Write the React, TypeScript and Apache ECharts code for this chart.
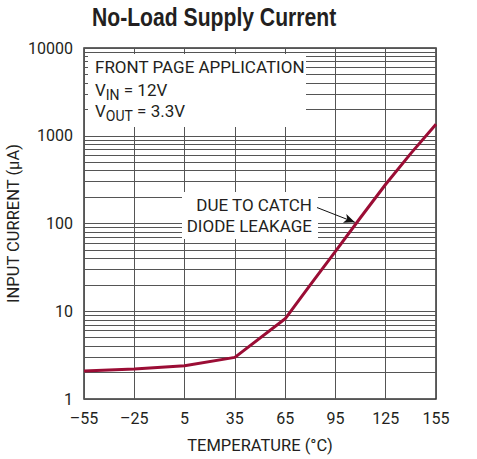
import React, { useEffect, useRef } from 'react';
import * as echarts from 'echarts';

// Temperature (°C) and input current (µA)
const TEMPS = [-55, -25, 5, 35, 65, 80, 95, 110, 125, 140, 155];
const CURRENT = [2.08, 2.2, 2.39, 2.98, 8.2, 20, 48, 117, 280, 630, 1350];

const X_MIN = -55;
const X_MAX = 155;
const X_STEP = 30;
const Y_MIN = 1;
const Y_MAX = 10000;

// Minor log grid lines (2..9 of each decade)
const MINOR_GRID = [
  2, 3, 4, 5, 6, 7, 8, 9,
  20, 30, 40, 50, 60, 70, 80, 90,
  200, 300, 400, 500, 600, 700, 800, 900,
  2000, 3000, 4000, 5000, 6000, 7000, 8000, 9000,
];

const TITLE = 'No-Load Supply Current';
const X_NAME = 'TEMPERATURE (°C)';
const Y_NAME = 'INPUT CURRENT (µA)';
const NOTE_1 = ['FRONT PAGE APPLICATION', 'V{s|IN} = 12V', 'V{s|OUT} = 3.3V'];
const NOTE_2 = ['DUE TO CATCH', 'DIODE LEAKAGE'];
const ARROW_FROM = [84, 152];
const ARROW_TO = [106.6, 103];

const FONT = 'Roboto, "Liberation Sans", sans-serif';
const TITLE_FONT = '"Liberation Sans", Arial, sans-serif';
const INK = '#231f20';
const GRID = '#555555';
const RED = '#9b0d35';

export default function App() {
  const ref = useRef<HTMLDivElement>(null);

  useEffect(() => {
    if (!ref.current) return;
    const chart = echarts.init(ref.current, null, { renderer: 'svg' });
    const data = TEMPS.map((t, i) => [t, CURRENT[i]]);

    const textEl = (text: string, x: number, y: number, align: string) => ({
      type: 'text',
      x,
      y,
      z: 7,
      zlevel: 0,
      style: {
        text,
        fill: INK,
        fontFamily: FONT,
        fontSize: 17,
        lineHeight: 24,
        align,
        verticalAlign: 'middle',
        rich: {
          s: { fontSize: 14, fontFamily: FONT, lineHeight: 14, verticalAlign: 'bottom', fill: INK },
        },
      },
    });

    chart.setOption({
      animation: false,
      grid: {
        left: 84,
        right: 41,
        top: 48,
        bottom: 60,
        outerBoundsMode: 'none',
        containLabel: false,
        show: true,
        borderColor: '#333',
        borderWidth: 1.5,
        backgroundColor: 'transparent',
      },
      xAxis: {
        type: 'value',
        min: X_MIN,
        max: X_MAX,
        interval: X_STEP,
        axisLine: { show: false },
        axisTick: { show: false },
        splitLine: { show: true, lineStyle: { color: GRID, width: 1 } },
        axisLabel: {
          fontFamily: FONT,
          fontSize: 16,
          color: INK,
          margin: 11,
          formatter: (v: number) => (v < 0 ? '\u2013' + Math.abs(v) : String(v)),
        },
        name: X_NAME,
        nameLocation: 'middle',
        nameGap: 37.5,
        nameTextStyle: { fontFamily: FONT, fontSize: 16.5, color: INK },
      },
      yAxis: {
        type: 'log',
        logBase: 10,
        min: Y_MIN,
        max: Y_MAX,
        axisLine: { show: false },
        axisTick: { show: false },
        splitLine: { show: true, lineStyle: { color: GRID, width: 1 } },
        axisLabel: {
          fontFamily: FONT,
          fontSize: 16,
          color: INK,
          margin: 11,
          formatter: (v: number) => String(Math.round(v)),
        },
        name: Y_NAME,
        nameLocation: 'middle',
        nameGap: 62,
        nameMoveOverlap: false,
        nameTextStyle: { fontFamily: FONT, fontSize: 16.5, color: INK },
      },
      graphic: [
        {
          type: 'text',
          x: 92,
          y: 17.5,
          scaleX: 0.813,
          z: 7,
          zlevel: 0,
          style: {
            text: TITLE,
            x: 0,
            y: 0,
            fill: INK,
            fontFamily: TITLE_FONT,
            fontWeight: 'bold',
            fontSize: 26,
            align: 'left',
            verticalAlign: 'middle',
          },
        },
        {
          type: 'rect',
          z: 6,
          zlevel: 0,
          shape: { x: 88, y: 54, width: 218, height: 73 },
          style: { fill: '#ffffff' },
        },
        {
          type: 'rect',
          z: 6,
          zlevel: 0,
          shape: { x: 182, y: 192, width: 136, height: 47 },
          style: { fill: '#ffffff' },
        },
        textEl(NOTE_1[0], 95, 66.5, 'left'),
        textEl(NOTE_1[1], 95, 89.5, 'left'),
        textEl(NOTE_1[2], 95, 110.5, 'left'),
        textEl(NOTE_2[0], 312, 205, 'right'),
        textEl(NOTE_2[1], 312, 226, 'right'),
      ],
      series: [
        {
          type: 'line',
          data,
          silent: true,
          symbol: 'none',
          z: 1,
          lineStyle: { opacity: 0 },
          markLine: {
            silent: true,
            z: 1,
            symbol: ['none', 'none'],
            label: { show: false },
            lineStyle: { color: GRID, width: 1, type: 'solid' },
            data: MINOR_GRID.map((v) => ({ yAxis: v })),
          },
        },
        {
          type: 'line',
          data,
          symbol: 'none',
          z: 10,
          lineStyle: { color: RED, width: 3 },
          markLine: {
            silent: true,
            z: 12,
            symbol: ['none', 'arrow'],
            symbolSize: [7, 11],
            label: { show: false },
            lineStyle: { color: '#111', width: 1, type: 'solid' },
            data: [[{ coord: ARROW_FROM }, { coord: ARROW_TO }]],
          },
        },
      ],
    });

    return () => chart.dispose();
  }, []);

  return (
    <div
      ref={ref}
      style={{ position: 'absolute', left: 0, top: 0, width: 477, height: 459 }}
    />
  );
}
